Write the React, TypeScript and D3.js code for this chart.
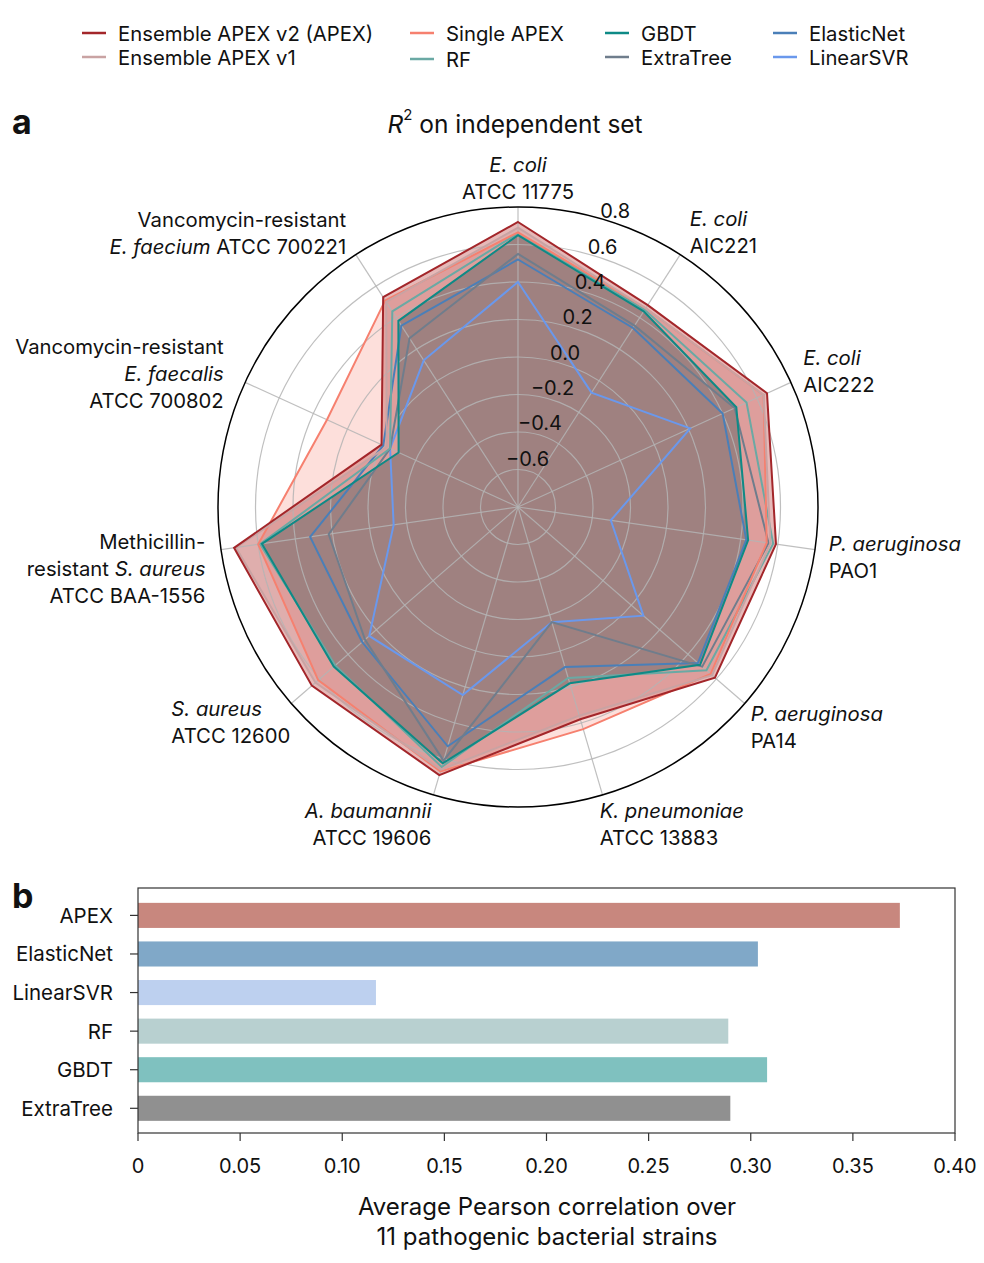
import * as d3 from "d3"

// ---- data ----
const strains = [
  [[["E. coli", true]], [["ATCC 11775", false]]],
  [[["E. coli", true]], [["AIC221", false]]],
  [[["E. coli", true]], [["AIC222", false]]],
  [[["P. aeruginosa", true]], [["PAO1", false]]],
  [[["P. aeruginosa", true]], [["PA14", false]]],
  [[["K. pneumoniae", true]], [["ATCC 13883", false]]],
  [[["A. baumannii", true]], [["ATCC 19606", false]]],
  [[["S. aureus", true]], [["ATCC 12600", false]]],
  [[["Methicillin-", false]], [["resistant ", false], ["S. aureus", true]], [["ATCC BAA-1556", false]]],
  [[["Vancomycin-resistant", false]], [["E. faecalis", true]], [["ATCC 700802", false]]],
  [[["Vancomycin-resistant", false]], [["E. faecium", true], [" ATCC 700221", false]]],
] as [string, boolean][][][]

const seriesNames = [
  "Ensemble APEX v2 (APEX)",
  "Ensemble APEX v1",
  "Single APEX",
  "RF",
  "GBDT",
  "ExtraTree",
  "ElasticNet",
  "LinearSVR",
]

const apexV2 = [0.72, 0.48, 0.66, 0.59, 0.59, 0.38, 0.69, 0.655, 0.73, 0.0, 0.53]
const apexV1 = [0.69, 0.46, 0.64, 0.56, 0.57, 0.36, 0.66, 0.63, 0.72, -0.03, 0.5]
const singleApex = [0.665, 0.46, 0.64, 0.54, 0.56, 0.435, 0.67, 0.61, 0.6, 0.32, 0.51]
const rf = [0.66, 0.45, 0.54, 0.575, 0.53, 0.15, 0.645, 0.49, 0.59, -0.05, 0.44]
const gbdt = [0.65, 0.44, 0.48, 0.44, 0.485, 0.18, 0.625, 0.5, 0.58, -0.1, 0.38]
const extraTree = [0.55, 0.35, 0.47, 0.55, 0.5, -0.16, 0.61, 0.28, 0.22, -0.05, 0.27]
const elasticNet = [0.52, 0.335, 0.4, 0.43, 0.47, 0.09, 0.53, 0.3, 0.32, -0.01, 0.35]
const linearSVR = [0.4, -0.075, 0.21, -0.3, 0.085, -0.16, 0.245, 0.25, -0.13, -0.05, 0.13]

const radialTicks = [-0.6, -0.4, -0.2, 0, 0.2, 0.4, 0.6, 0.8]

const barModels = ["APEX", "ElasticNet", "LinearSVR", "RF", "GBDT", "ExtraTree"]
const barValues = [0.373, 0.3035, 0.1165, 0.289, 0.308, 0.29]
const barTicks = [0, 0.05, 0.1, 0.15, 0.2, 0.25, 0.3, 0.35, 0.4]

// ---- styles ----
const font = "Inter, 'Noto Sans', sans-serif"
const lineColors = ["#a3262a", "#c9a3a3", "#f6806f", "#6aa9a4", "#0e8a86", "#6f7d8c", "#4a7fb8", "#6a98ec"]
const fillColors = ["#c0504d", "#c9a3a3", "#f6806f", "none", "#555f5f", "none", "none", "none"]
const fillAlpha = [0.4, 0.2, 0.25, 0, 0.46, 0, 0, 0]
const barColors = ["#c8877e", "#80a8c8", "#bdd0ef", "#b8d0d0", "#7fc1bf", "#909090"]
// label anchor + nudge for each spoke
const labelLayout: [string, number, number][] = [
  ["middle", 0, 0],
  ["start", -6, 2],
  ["start", -14, 1],
  ["start", -15, 3],
  ["start", -16, 5],
  ["start", -11, 1],
  ["end", 6, 1],
  ["start", -98, 0],
  ["end", 13, 15],
  ["end", 5, 3],
  ["end", 6, 3],
]

function Radar() {
  const cx = 518
  const cy = 507
  const R = 300
  const n = strains.length
  const series = [apexV2, apexV1, singleApex, rf, gbdt, extraTree, elasticNet, linearSVR]
  const r = d3.scaleLinear().domain([-0.8, 0.8]).range([0, R])
  const ang = (i: number) => (i * 2 * Math.PI) / n
  const line = d3
    .lineRadial<number>()
    .angle((_, i) => ang(i))
    .radius((d) => r(d))
    .curve(d3.curveLinearClosed)
  const drawOrder = [2, 1, 0, 3, 4, 5, 6, 7]
  const lineOrder = [7, 6, 5, 3, 4, 2, 1, 0]
  const labelAng = (19.5 * Math.PI) / 180

  return (
    <g transform={`translate(${cx},${cy})`}>
      {drawOrder.map((s) =>
        fillAlpha[s] > 0 ? (
          <path key={"f" + s} d={line(series[s]) || undefined} fill={fillColors[s]} fillOpacity={fillAlpha[s]} stroke="none" />
        ) : null
      )}
      {radialTicks.slice(0, -1).map((t) => (
        <circle key={t} r={r(t)} fill="none" stroke="#b4b4b4" strokeOpacity={0.85} strokeWidth={1.2} />
      ))}
      {strains.map((_, i) => (
        <line
          key={i}
          x1={0}
          y1={0}
          x2={R * Math.sin(ang(i))}
          y2={-R * Math.cos(ang(i))}
          stroke="#b4b4b4"
          strokeOpacity={0.85}
          strokeWidth={1.2}
        />
      ))}
      <circle r={R} fill="none" stroke="#000" strokeWidth={1.5} />
      {lineOrder.map((s) => (
        <path key={"l" + s} d={line(series[s]) || undefined} fill="none" stroke={lineColors[s]} strokeWidth={2} strokeLinejoin="miter" />
      ))}
      {radialTicks.map((t) => (
        <text
          key={t}
          x={r(t) * Math.sin(labelAng) - 3}
          y={-r(t) * Math.cos(labelAng) - 13}
          textAnchor="middle"
          dominantBaseline="central"
          fontSize={20}
          fill="#111"
        >
          {t === 0 ? "0.0" : d3.format(".1f")(t).replace("-", "\u2212")}
        </text>
      ))}
      {strains.map((lines, i) => {
        const lr = 329
        const [anchor, dx, dy] = labelLayout[i]
        const px = lr * Math.sin(ang(i)) + dx
        const py = -lr * Math.cos(ang(i)) + dy
        const lh = 27
        return (
          <text key={i} textAnchor={anchor as any} fontSize={20.3} fill="#111">
            {lines.map((segs, j) => (
              <tspan key={j} x={px} y={py - ((lines.length - 1) * lh) / 2 + j * lh} dominantBaseline="central">
                {segs.map(([txt, it], k) => (
                  <tspan key={k} fontStyle={it ? "italic" : "normal"}>
                    {txt}
                  </tspan>
                ))}
              </tspan>
            ))}
          </text>
        )
      })}
    </g>
  )
}

function Bars() {
  const left = 138
  const right = 955
  const top = 888
  const bottom = 1133
  const x = d3.scaleLinear().domain([0, 0.4]).range([left, right])
  const y = d3.scaleBand<string>().domain(barModels).range([top, bottom]).paddingInner(0.35).paddingOuter(0.35).align(0.55)
  const fmt = (d: number) => (d === 0 ? "0" : d3.format(".2f")(d))
  return (
    <g>
      {barModels.map((m, i) => (
        <rect key={m} x={x(0)} y={y(m)} width={x(barValues[i]) - x(0)} height={y.bandwidth()} fill={barColors[i]} />
      ))}
      <rect x={left} y={top} width={right - left} height={bottom - top} fill="none" stroke="#333" strokeWidth={1.2} />
      {barModels.map((m) => (
        <g key={m}>
          <line x1={left - 8} x2={left} y1={y(m)! + y.bandwidth() / 2} y2={y(m)! + y.bandwidth() / 2} stroke="#333" strokeWidth={1.2} />
          <text x={left - 25} y={y(m)! + y.bandwidth() / 2} textAnchor="end" dominantBaseline="central" fontSize={20.5} fill="#111">
            {m}
          </text>
        </g>
      ))}
      {barTicks.map((t) => (
        <g key={t}>
          <line x1={x(t)} x2={x(t)} y1={bottom} y2={bottom + 8} stroke="#333" strokeWidth={1.2} />
          <text x={x(t)} y={bottom + 33} textAnchor="middle" dominantBaseline="central" fontSize={20} fill="#111">
            {fmt(t)}
          </text>
        </g>
      ))}
      <text x={547} y={1206} textAnchor="middle" dominantBaseline="central" fontSize={24} fill="#111">
        Average Pearson correlation over
      </text>
      <text x={547} y={1236} textAnchor="middle" dominantBaseline="central" fontSize={24} fill="#111">
        11 pathogenic bacterial strains
      </text>
    </g>
  )
}

function Legend() {
  const colX = [82, 410, 605, 773]
  const rowY = [33, 57]
  return (
    <g>
      {seriesNames.map((name, i) => {
        const c = Math.floor(i / 2)
        const rr = i % 2
        const x0 = colX[c]
        const y0 = rowY[rr] + (c === 1 && rr === 1 ? 2 : 0)
        return (
          <g key={name}>
            <line x1={x0} x2={x0 + 24} y1={y0} y2={y0} stroke={lineColors[i]} strokeWidth={2.5} />
            <text x={x0 + 36} y={y0} dominantBaseline="central" fontSize={20.3} fill="#111">
              {name}
            </text>
          </g>
        )
      })}
    </g>
  )
}

export default function App() {
  return (
    <svg
      width={984}
      height={1263}
      viewBox="0 0 984 1263"
      style={{ position: "absolute", left: 0, top: 0, background: "#fff" }}
      fontFamily={font}
    >
      <rect width={984} height={1263} fill="#fff" />
      <Legend />
      <text x={12} y={121} dominantBaseline="central" fontSize={34} fontWeight="bold" fill="#111">
        a
      </text>
      <text x={515} y={124} textAnchor="middle" dominantBaseline="central" fontSize={24.5} fill="#111">
        <tspan fontStyle="italic">R</tspan>
        <tspan fontSize={15} dy={-10}>
          2
        </tspan>
        <tspan dy={10}> on independent set</tspan>
      </text>
      <Radar />
      <text x={12} y={895} dominantBaseline="central" fontSize={34} fontWeight="bold" fill="#111">
        b
      </text>
      <Bars />
    </svg>
  )
}
